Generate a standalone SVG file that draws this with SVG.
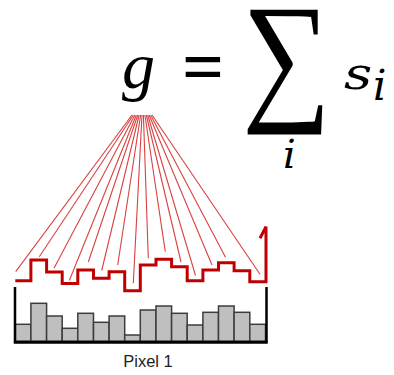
<svg xmlns="http://www.w3.org/2000/svg" width="394" height="375" viewBox="0 0 394 375">
<style>
.math{font-family:"Liberation Serif","DejaVu Serif",serif;font-style:italic;fill:#000}
.mathd{font-family:"DejaVu Serif","Liberation Serif",serif;font-style:italic;fill:#000}
.op{font-family:"Liberation Serif","DejaVu Serif",serif;fill:#000}
.ray{stroke:#d9413f;stroke-width:1.1;fill:none}
.step{stroke:#c00000;stroke-width:3;fill:none;stroke-linejoin:miter}
.bar{fill:#bfbfbf;stroke:#3c3c3c;stroke-width:1.5}
.axis{stroke:#000;fill:none}
.lbl{font-family:"Liberation Sans",Arial,sans-serif;font-size:16.5px;fill:#222}
</style>
<rect width="394" height="375" fill="#fff"/>
<g id="equation">
<text class="math" x="122" y="88" font-size="66">g</text>
<text class="op" x="182" y="92" font-size="74" font-weight="bold">=</text>
<text class="op" transform="translate(242,104) scale(1.04,1.2)" font-size="120">∑</text>
<text class="mathd" transform="translate(344,89) scale(1.25,1)" font-size="44">s</text>
<text class="mathd" x="373" y="100" font-size="42">i</text>
<text class="mathd" x="283" y="168" font-size="40">i</text>
</g>
<g id="connectors">
<line class="ray" x1="132" y1="115" x2="15.7" y2="271.7"/>
<line class="ray" x1="133.4" y1="115" x2="39.3" y2="256.7"/>
<line class="ray" x1="134.9" y1="115" x2="54" y2="268.3"/>
<line class="ray" x1="136.3" y1="115" x2="69.3" y2="280.5"/>
<line class="ray" x1="137.7" y1="115" x2="88.3" y2="262"/>
<line class="ray" x1="139.1" y1="115" x2="101.7" y2="270.5"/>
<line class="ray" x1="140.6" y1="115" x2="117.7" y2="265"/>
<line class="ray" x1="142" y1="115" x2="133.3" y2="283.3"/>
<line class="ray" x1="143.4" y1="115" x2="148.3" y2="258.3"/>
<line class="ray" x1="144.9" y1="115" x2="165.3" y2="251.7"/>
<line class="ray" x1="146.3" y1="115" x2="181" y2="262"/>
<line class="ray" x1="147.7" y1="115" x2="195.5" y2="275.5"/>
<line class="ray" x1="149.1" y1="115" x2="212" y2="265"/>
<line class="ray" x1="150.6" y1="115" x2="225.5" y2="257.3"/>
<line class="ray" x1="152" y1="115" x2="260" y2="274.3"/>
</g>
<g id="signal">
<path class="step" d="M15.3,280.7 H30.9 V260 H46.6 V272 H62.2 V283.5 H77.8 V270 H93.5 V278.3 H109.1 V271.7 H124.7 V290.7 H140.3 V265 H156 V259.3 H171.6 V266.7 H187.2 V280.7 H202.9 V270 H218.5 V262.7 H234.1 V270.7 H249.8 V281.7 H266 V226.7 L260,238.3"/>
</g>
<g id="histogram">
<rect class="bar" x="15.3" y="324.3" width="15.6" height="17"/>
<rect class="bar" x="30.9" y="303.3" width="15.7" height="38"/>
<rect class="bar" x="46.6" y="316" width="15.6" height="25.3"/>
<rect class="bar" x="62.2" y="328.3" width="15.6" height="13"/>
<rect class="bar" x="77.8" y="313.3" width="15.7" height="28"/>
<rect class="bar" x="93.5" y="322.3" width="15.6" height="19"/>
<rect class="bar" x="109.1" y="316" width="15.6" height="25.3"/>
<rect class="bar" x="124.7" y="335" width="15.6" height="6.3"/>
<rect class="bar" x="140.3" y="310" width="15.7" height="31.3"/>
<rect class="bar" x="156" y="306" width="15.6" height="35.3"/>
<rect class="bar" x="171.6" y="313.3" width="15.6" height="28"/>
<rect class="bar" x="187.2" y="325" width="15.7" height="16.3"/>
<rect class="bar" x="202.9" y="312.3" width="15.6" height="29"/>
<rect class="bar" x="218.5" y="306" width="15.6" height="35.3"/>
<rect class="bar" x="234.1" y="312.3" width="15.7" height="29"/>
<rect class="bar" x="249.8" y="324.3" width="15.7" height="17"/>
<path class="axis" stroke-width="2.5" d="M15,287 V342.5 M266.5,287 V342.5"/>
<path class="axis" stroke-width="3" d="M13.8,342.3 H267.7"/>
</g>
<g id="label">
<text class="lbl" x="148" y="367" text-anchor="middle">Pixel 1</text>
</g>
</svg>
